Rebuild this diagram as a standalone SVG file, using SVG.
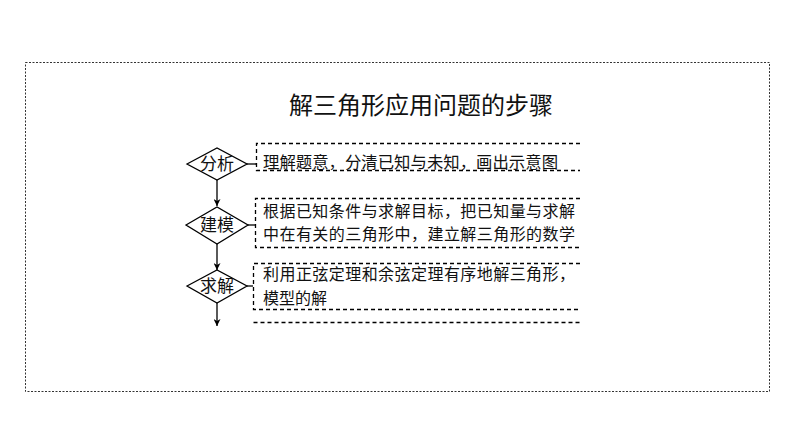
<svg xmlns="http://www.w3.org/2000/svg" width="794" height="446" viewBox="0 0 794 446">
<defs>
<marker id="ah" viewBox="0 0 10 10" refX="10" refY="5" markerWidth="7" markerHeight="7" orient="auto" markerUnits="userSpaceOnUse">
<path d="M0,0 L10,5 L0,10 L3,5 Z" fill="#000"/>
</marker>
</defs>
<style>
.t{font-family:"Noto Sans CJK SC","Noto Sans",sans-serif;fill:#111}
.body{font-size:16px}
.dia{fill:#fff;stroke:#000;stroke-width:1.3}
.box{fill:none;stroke:#000;stroke-width:1.3;stroke-dasharray:4 3}
.ln{stroke:#000;stroke-width:1.3;fill:none}
</style>
<rect width="794" height="446" fill="#fff"/>
<rect x="25.5" y="62.5" width="744" height="329" fill="none" stroke="#333" stroke-width="1" stroke-dasharray="2 1.5"/>
<text class="t" x="421" y="114" font-size="24" text-anchor="middle">解三角形应用问题的步骤</text>

<g id="connectors">
<line class="ln" x1="217" y1="180" x2="217" y2="206" marker-end="url(#ah)"/>
<line class="ln" x1="217" y1="244" x2="217" y2="270" marker-end="url(#ah)"/>
<line class="ln" x1="217" y1="303" x2="217" y2="326" marker-end="url(#ah)"/>
<line class="ln" x1="247" y1="164" x2="256" y2="164"/>
<line class="ln" x1="248" y1="225" x2="255" y2="225"/>
<line class="ln" x1="247" y1="286" x2="253" y2="286"/>
</g>

<g id="node-fenxi">
<polygon class="dia" points="187,164 217,148 247,164 217,180"/>
<text class="t" x="217" y="170" font-size="17" text-anchor="middle">分析</text>
</g>
<g id="box-fenxi">
<path class="box" d="M580,143.5 H256.5 V170.5 H580"/>
<text class="t" x="263" y="168" font-size="16.4">理解题意，分清已知与未知，画出示意图</text>
</g>

<g id="node-jianmo">
<polygon class="dia" points="186,225 217,207 248,225 217,244"/>
<text class="t" x="217" y="231" font-size="17" text-anchor="middle">建模</text>
</g>
<g id="box-jianmo">
<path class="box" d="M580,198.5 H255.5 V247.5 H580"/>
<text class="t body" x="263" y="216.5" textLength="312">根据已知条件与求解目标，把已知量与求解</text>
<text class="t body" x="263" y="239.5" textLength="312">中在有关的三角形中，建立解三角形的数学</text>
</g>

<g id="node-qiujie">
<polygon class="dia" points="187,286 217,270 247,286 217,303"/>
<text class="t" x="217" y="292" font-size="17" text-anchor="middle">求解</text>
</g>
<g id="box-qiujie">
<path class="box" d="M580,263.5 H253.5 V309.5 H580"/>
<text class="t body" x="263" y="280" textLength="312">利用正弦定理和余弦定理有序地解三角形，</text>
<text class="t body" x="263" y="303.5">模型的解</text>
</g>

<g id="box-next">
<path class="box" d="M253.5,322.5 H580"/>
</g>
</svg>
